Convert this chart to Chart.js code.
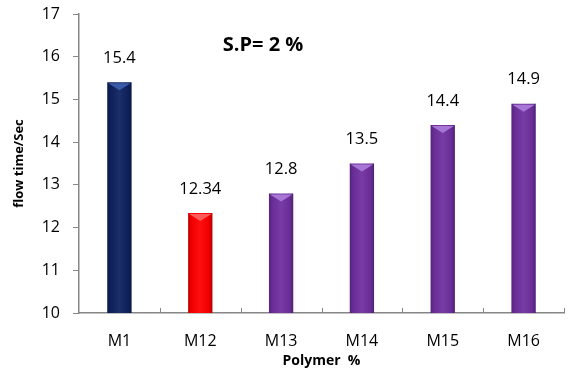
<!DOCTYPE html>
<html>
<head>
<meta charset="utf-8">
<script src="https://cdn.jsdelivr.net/npm/chart.js@4/dist/chart.umd.min.js"></script>
<style>
  html, body { margin: 0; padding: 0; background: #fff; }
  #wrap { width: 569px; height: 373px; position: relative; }
</style>
</head>
<body>
<div id="wrap"><canvas id="flowChart"></canvas></div>
<script>
// flow time per sample
const samples = ['M1', 'M12', 'M13', 'M14', 'M15', 'M16'];
const flowTimes = [15.4, 12.34, 12.8, 13.5, 14.4, 14.9];
const barColors = ['#0E2260', '#FF0000', '#7030A0', '#7030A0', '#7030A0', '#7030A0'];
const capColors = ['#3A5AA8', '#FF5A5A', '#A777D6', '#A777D6', '#A777D6', '#A777D6'];
const yTicks = [10, 11, 12, 13, 14, 15, 16, 17];

const axisGray = '#868686';
const font = '"Open Sans", "Liberation Sans", sans-serif';

// bevel shading + top cap + value labels
const barDecor = {
    id: 'barDecor',
    afterDatasetsDraw(chart) {
        const ctx = chart.ctx;
        const area = chart.chartArea;
        const meta = chart.getDatasetMeta(0);
        meta.data.forEach((bar, i) => {
            const left = bar.x - bar.width / 2;
            const right = bar.x + bar.width / 2;
            const top = bar.y;
            const bottom = Math.min(bar.base, area.bottom);
            ctx.save();
            const g = ctx.createLinearGradient(left, 0, right, 0);
            g.addColorStop(0, 'rgba(0,0,0,0.25)');
            g.addColorStop(0.15, 'rgba(0,0,0,0.05)');
            g.addColorStop(0.5, 'rgba(255,255,255,0.06)');
            g.addColorStop(0.85, 'rgba(0,0,0,0.05)');
            g.addColorStop(1, 'rgba(0,0,0,0.3)');
            ctx.fillStyle = g;
            ctx.fillRect(left, top, right - left, bottom - top);
            // top cap triangle
            ctx.beginPath();
            ctx.moveTo(left + 1, top + 1);
            ctx.lineTo(right - 1, top + 1);
            ctx.lineTo(bar.x, top + 8);
            ctx.closePath();
            ctx.fillStyle = capColors[i];
            ctx.fill();
            // value label
            ctx.fillStyle = '#000';
            ctx.font = '16.5px ' + font;
            ctx.textAlign = 'center';
            ctx.textBaseline = 'middle';
            ctx.fillText(String(flowTimes[i]), bar.x, top - 24);
            ctx.restore();
        });
    }
};

// inward x tick marks and the in-plot heading
const axisExtras = {
    id: 'axisExtras',
    afterDraw(chart) {
        const ctx = chart.ctx;
        const x = chart.scales.x;
        const area = chart.chartArea;
        ctx.save();
        ctx.strokeStyle = axisGray;
        ctx.lineWidth = 1;
        for (let i = 0; i < samples.length; i++) {
            const px = i < samples.length - 1
                ? (x.getPixelForValue(i) + x.getPixelForValue(i + 1)) / 2
                : area.right;
            ctx.beginPath();
            ctx.moveTo(Math.round(px) + 0.5, area.bottom);
            ctx.lineTo(Math.round(px) + 0.5, area.bottom - 5);
            ctx.stroke();
        }
        ctx.fillStyle = '#000';
        ctx.font = 'bold 20px ' + font;
        ctx.textAlign = 'center';
        ctx.textBaseline = 'middle';
        ctx.fillText('S.P= 2 %', area.left + 184, area.top + 31);
        ctx.restore();
    }
};

new Chart(document.getElementById('flowChart'), {
    type: 'bar',
    data: {
        labels: samples,
        datasets: [{
            data: flowTimes,
            backgroundColor: barColors,
            borderWidth: 0,
            barPercentage: 0.3,
            categoryPercentage: 1.0
        }]
    },
    options: {
        responsive: true,
        maintainAspectRatio: false,
        animation: false,
        layout: { padding: { top: 14, right: 5, left: 11, bottom: 4 } },
        plugins: {
            legend: { display: false },
            tooltip: { enabled: false }
        },
        scales: {
            x: {
                grid: { display: false },
                border: { display: true, color: axisGray, width: 1.5 },
                ticks: { color: '#000', padding: 11, font: { family: font, size: 16 } },
                title: {
                    display: true,
                    text: 'Polymer  %',
                    color: '#000',
                    padding: { top: 0, bottom: 0 },
                    font: { family: font, size: 14, weight: 'bold' }
                },
                afterFit(scale) { scale.height = 56; }
            },
            y: {
                min: 10,
                max: 17,
                afterBuildTicks(scale) { scale.ticks = yTicks.map(v => ({ value: v })); },
                grid: { drawOnChartArea: false, tickLength: 6, color: axisGray },
                border: { display: true, color: axisGray, width: 1.5 },
                ticks: { color: '#000', padding: 13, font: { family: font, size: 16, lineHeight: 1 } },
                title: {
                    display: true,
                    text: 'flow time/Sec',
                    color: '#000',
                    padding: { top: 0, bottom: 0 },
                    font: { family: font, size: 13, weight: 'bold' }
                },
                afterFit(scale) {
                    scale.width = 68;
                    scale.paddingTop = 0;
                }
            }
        }
    },
    plugins: [barDecor, axisExtras]
});
</script>
</body>
</html>
